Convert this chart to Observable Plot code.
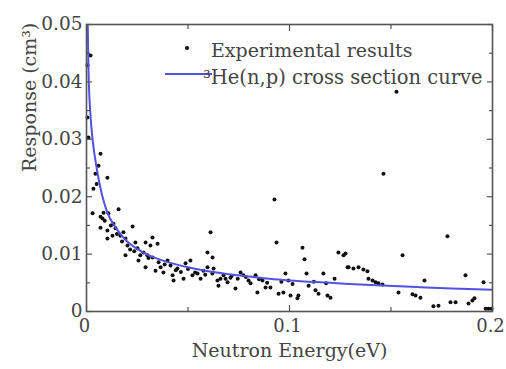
<!DOCTYPE html>
<html>
<head>
<meta charset="utf-8">
<script src="https://cdn.jsdelivr.net/npm/d3@7"></script>
<script src="https://cdn.jsdelivr.net/npm/@observablehq/plot@0.6"></script>
<style>
  html, body { margin: 0; padding: 0; background: #fff; }
  #wrap { position: relative; width: 506px; height: 369px; font-family: 'DejaVu Serif', serif; color: #444; }
</style>
</head>
<body>
<div id="wrap"></div>
<script>
// Experimental results (neutron energy eV, response cm^3)
const expEnergy = [
  0.0020,0.0005,0.0005,0.0010,0.0069,0.0059,0.0044,0.0103,0.0034,0.0030,
  0.0084,0.0158,0.0079,0.0133,0.0227,0.0069,0.0069,0.0108,0.0103,0.0143,
  0.0128,0.0103,0.0167,0.0182,0.0192,0.0202,0.0192,0.0241,0.0251,0.0256,
  0.0281,0.0291,0.0315,0.0325,0.0350,0.0300,0.0325,0.0291,0.0340,0.0365,
  0.0379,0.0399,0.0414,0.0424,0.0429,0.0448,0.0478,0.0488,0.0512,0.0522,
  0.0547,0.0562,0.0576,0.0596,0.0611,0.0596,0.0621,0.0626,0.0645,0.0660,
  0.0675,0.0695,0.0709,0.0734,0.0759,0.0773,0.0798,0.0808,0.0833,0.0842,
  0.0650,0.0685,0.0867,0.0882,0.0906,0.0926,0.0936,0.0946,0.0970,0.0980,
  0.0995,0.1005,0.1039,0.1044,0.1064,0.1074,0.1084,0.1094,0.1128,0.1143,
  0.1167,0.1187,0.1202,0.1222,0.1241,0.1266,0.1286,0.1276,0.1291,0.1315,
  0.1340,0.1364,0.1384,0.1389,0.1409,0.1424,0.1438,0.1458,0.1463,0.1527,
  0.1537,0.1557,0.1606,0.1621,0.1645,0.1665,0.1709,0.1734,0.1778,0.1793,
  0.1818,0.1867,0.1882,0.1901,0.1911,0.1956,0.1966,0.1980,0.1995,
  0.0050,0.0090,0.0120,0.0150,0.0175,0.0215,0.0235,0.0265,0.0305,0.0355,
  0.0385,0.0440,0.0465,0.0500,0.0535,0.0585,0.0620,0.0715,0.0745,0.0785,
  0.0850,0.0890,0.0960,0.1015,0.1120,0.1180
];
const expResponse = [
  0.0446,0.0429,0.0338,0.0303,0.0275,0.0254,0.0240,0.0233,0.0214,0.0171,
  0.0172,0.0178,0.0162,0.0153,0.0148,0.0146,0.0165,0.0171,0.0141,0.0145,
  0.0132,0.0127,0.0132,0.0138,0.0127,0.0115,0.0098,0.0120,0.0110,0.0089,
  0.0103,0.0120,0.0115,0.0129,0.0118,0.0098,0.0094,0.0077,0.0071,0.0077,
  0.0068,0.0089,0.0080,0.0063,0.0054,0.0075,0.0057,0.0084,0.0089,0.0063,
  0.0066,0.0057,0.0071,0.0077,0.0138,0.0103,0.0094,0.0075,0.0054,0.0057,
  0.0063,0.0051,0.0059,0.0040,0.0068,0.0063,0.0054,0.0049,0.0063,0.0033,
  0.0045,0.0057,0.0054,0.0042,0.0042,0.0195,0.0120,0.0031,0.0033,0.0066,
  0.0054,0.0028,0.0023,0.0028,0.0111,0.0091,0.0066,0.0045,0.0037,0.0031,
  0.0066,0.0028,0.0024,0.0057,0.0103,0.0098,0.0077,0.0101,0.0077,0.0075,
  0.0077,0.0073,0.0070,0.0057,0.0054,0.0051,0.0049,0.0047,0.0240,0.0383,
  0.0033,0.0098,0.0030,0.0028,0.0024,0.0054,0.0009,0.0010,0.0131,0.0016,
  0.0016,0.0063,0.0014,0.0019,0.0023,0.0051,0.0005,0.0005,0.0005,
  0.0222,0.0158,0.0150,0.0135,0.0122,0.0108,0.0105,0.0098,0.0093,0.0086,
  0.0082,0.0072,0.0069,0.0074,0.0068,0.0064,0.0066,0.0062,0.0057,0.0060,
  0.0056,0.0050,0.0052,0.0048,0.0052,0.0049
];

// 3He(n,p) cross section curve
const curveEnergy = [0.0005,0.001,0.002,0.003,0.005,0.0075,0.01,0.015,0.02,0.025,0.03,0.04,0.05,0.06,0.07,0.08,0.09,0.1,0.12,0.14,0.16,0.18,0.2];
const curveResponse = [0.052,0.042,0.034,0.030,0.025,0.0205,0.0175,0.0143,0.0122,0.0109,0.0099,0.0086,0.0077,0.0070,0.0065,0.0061,0.0057,0.0054,0.0050,0.0046,0.0043,0.0040,0.0038];

const xMajor = [0, 0.1, 0.2];
const xMinor = [0.05, 0.15];
const yMajor = [0, 0.01, 0.02, 0.03, 0.04, 0.05];
const yMinor = [0.005, 0.015, 0.025, 0.035, 0.045];

const seriesNames = ["Experimental results", "\u00B3He(n,p) cross section curve"];
const xTitle = "Neutron Energy(eV)";
const yTitle = "Response (cm\u00B3)";

const expData = expEnergy.map((e, i) => ({e, r: expResponse[i]}));
const curveData = curveEnergy.map((e, i) => ({e, r: curveResponse[i]}));

const FONT = "'DejaVu Serif', serif";
const axisColor = "#555";
const textColor = "#444";
const curveColor = "#5252e0";
const fmt = d => d === 0 ? "0" : String(+d.toFixed(2));

const tickOpts = {tickFormat: () => "", label: null, stroke: axisColor, strokeWidth: 1.2};

const chart = Plot.plot({
  width: 506,
  height: 369,
  marginLeft: 86,
  marginRight: 14,
  marginTop: 24,
  marginBottom: 58,
  style: {fontFamily: FONT, fontSize: "18px", color: textColor, background: "#fff"},
  x: {domain: [0, 0.2]},
  y: {domain: [0, 0.05]},
  marks: [
    Plot.dot(expData, {x: "e", y: "r", r: 2, fill: "#111", stroke: null}),
    Plot.line(curveData, {x: "e", y: "r", stroke: curveColor, strokeWidth: 2, curve: "monotone-x", clip: true}),
    // inward ticks on all four sides
    Plot.axisY(yMajor, {anchor: "left", tickSize: 6, dx: 6, ...tickOpts}),
    Plot.axisY(yMinor, {anchor: "left", tickSize: 4, dx: 4, ...tickOpts}),
    Plot.axisY(yMajor, {anchor: "right", tickSize: 6, dx: -6, ...tickOpts}),
    Plot.axisY(yMinor, {anchor: "right", tickSize: 4, dx: -4, ...tickOpts}),
    Plot.axisX(xMajor, {anchor: "bottom", tickSize: 6, dy: -6, ...tickOpts}),
    Plot.axisX(xMinor, {anchor: "bottom", tickSize: 4, dy: -4, ...tickOpts}),
    Plot.axisX(xMajor, {anchor: "top", tickSize: 6, dy: 6, ...tickOpts}),
    Plot.axisX(xMinor, {anchor: "top", tickSize: 4, dy: 4, ...tickOpts}),
    // tick labels
    Plot.axisY(yMajor, {anchor: "left", tickSize: 0, tickPadding: 4, tickFormat: fmt, label: null, fill: textColor, fontSize: 18.5}),
    Plot.axisX(xMajor, {anchor: "bottom", tickSize: 0, tickPadding: 8, dx: -2, tickFormat: fmt, label: null, fill: textColor, fontSize: 18}),
    Plot.frame({stroke: axisColor, strokeWidth: 1.6}),
    // axis titles
    Plot.text([yTitle], {frameAnchor: "left", dx: -57, dy: 4, rotate: -90, text: d => d, fill: textColor, fontSize: 19}),
    Plot.text([xTitle], {frameAnchor: "bottom", dy: 45, text: d => d, fill: textColor, fontSize: 19})
  ]
});

const wrap = document.getElementById("wrap");
wrap.appendChild(chart);

// Legend overlay
const ns = "http://www.w3.org/2000/svg";
const lgSvg = document.createElementNS(ns, "svg");
lgSvg.setAttribute("width", 506);
lgSvg.setAttribute("height", 369);
lgSvg.style.position = "absolute";
lgSvg.style.left = "0";
lgSvg.style.top = "0";
lgSvg.style.pointerEvents = "none";
lgSvg.innerHTML = `
  <circle cx="187" cy="48" r="2" fill="#111"></circle>
  <line x1="165" y1="74" x2="212" y2="74" stroke="${curveColor}" stroke-width="2"></line>
  <text x="211" y="50" dy="0.35em" font-family="${FONT}" font-size="19" fill="${textColor}">${seriesNames[0]}</text>
  <text x="203" y="77" dy="0.35em" font-family="${FONT}" font-size="19.5" fill="${textColor}">${seriesNames[1]}</text>
`;
wrap.appendChild(lgSvg);
</script>
</body>
</html>
